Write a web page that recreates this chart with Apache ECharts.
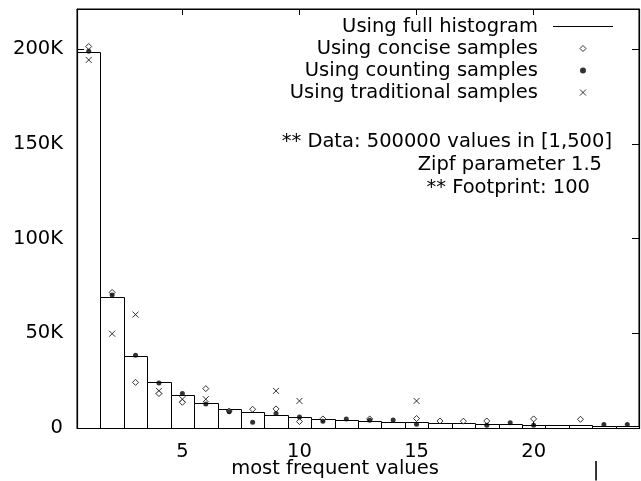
<!DOCTYPE html>
<html>
<head>
<meta charset="utf-8">
<title>most frequent values</title>
<script src="https://cdn.jsdelivr.net/npm/echarts@6/dist/echarts.min.js"></script>
<style>
  html, body { margin: 0; padding: 0; background: #fff; }
  #chart { width: 641px; height: 481px; }
</style>
</head>
<body>
<div id="chart"></div>
<script>
// full histogram, ranks 1..24
const ranks = [1, 2, 3, 4, 5, 6, 7, 8, 9, 10, 11, 12, 13, 14, 15, 16, 17, 18, 19, 20, 21, 22, 23, 24]
const fullHist = [198600, 69100, 37800, 24300, 17300, 13200, 10200, 8500, 7100, 5800, 4800, 4400,
  3700, 3400, 3000, 2600, 2600, 2300, 2100, 1800, 1800, 1600, 1300, 1100]

// concise samples
const conciseRanks = [1, 2, 3, 4, 5, 6, 7, 8, 9, 10, 11, 13, 15, 16, 17, 18, 20, 22]
const conciseVals = [201500, 71600, 24100, 18200, 13600, 20800, 9000, 9900, 10100, 3400, 4800, 4800,
  5000, 3700, 3600, 3700, 4800, 4600]

// counting samples
const countingRanks = [1, 2, 3, 4, 5, 6, 7, 8, 9, 10, 11, 12, 13, 14, 15, 18, 19, 20, 23, 24]
const countingVals = [199000, 70200, 38400, 23800, 18200, 12700, 8600, 3000, 7600, 5800, 3500, 4800,
  4100, 4200, 2000, 1400, 2800, 1400, 1800, 1800]

// traditional samples
const tradRanks = [1, 2, 3, 4, 5, 6, 9, 10, 15]
const tradVals = [194400, 49800, 59900, 19600, 15200, 15200, 19600, 14300, 14300]

const notes = ['** Data: 500000 values in [1,500]', 'Zipf parameter 1.5', '** Footprint: 100']

const FONT = 'DejaVu Sans'
const FS = 19.5
const xMin = 0.5
const xMax = 24.5
const yMax = 221300

const pairs = (xs, ys) => xs.map((x, i) => [x, ys[i]])

const chart = echarts.init(document.getElementById('chart'), null, { renderer: 'canvas' })

const kLabel = v => {
  if (v % 50000 !== 0) return ''
  return v === 0 ? '0' : (v / 1000) + 'K'
}

const baseX = {
  type: 'value',
  min: xMin,
  max: xMax,
  splitLine: { show: false },
  axisLine: { show: true, onZero: false, lineStyle: { color: '#000', width: 1 } },
  axisTick: { show: true, inside: true, length: 6, lineStyle: { color: '#000' } }
}

const baseY = {
  type: 'value',
  min: 0,
  max: yMax,
  interval: 50000,
  splitLine: { show: false },
  axisLine: { show: true, onZero: false, lineStyle: { color: '#000', width: 1 } },
  axisTick: { show: true, inside: true, length: 7, lineStyle: { color: '#000' } }
}

// annotation block + the stray bar under the plot
const textGraphics = notes.map((t, i) => ({
  type: 'text',
  x: [612, 602, 590][i],
  y: [141.7, 165, 188][i],
  style: { text: t, fill: '#000', font: FS + 'px "' + FONT + '"', align: 'right', verticalAlign: 'middle' }
})).concat([{
  type: 'text',
  x: 596,
  y: 471,
  style: { text: '|', fill: '#000', font: FS + 'px "' + FONT + '"', align: 'center', verticalAlign: 'middle' }
}])

const option = {
  animation: false,
  backgroundColor: '#fff',
  textStyle: { fontFamily: FONT, fontSize: FS, color: '#000' },
  grid: {
    left: 77, right: 2, top: 9, bottom: 53,
    containLabel: false,
    outerBoundsMode: 'none',
    show: true,
    backgroundColor: 'transparent',
    borderColor: '#000',
    borderWidth: 1
  },
  xAxis: [
    {
      ...baseX,
      position: 'bottom',
      name: 'most frequent values',
      nameLocation: 'middle',
      nameGap: 31,
      nameMoveOverlap: false,
      nameTextStyle: { fontFamily: FONT, fontSize: FS, color: '#000', padding: [0, 46, 0, 0] },
      axisLabel: {
        fontFamily: FONT,
        fontSize: FS,
        color: '#000',
        margin: 14,
        showMinLabel: false,
        showMaxLabel: false,
        formatter: v => (v % 5 === 0 ? String(v) : '')
      }
    },
    { ...baseX, position: 'top', axisLabel: { show: false } }
  ],
  yAxis: [
    {
      ...baseY,
      position: 'left',
      axisLabel: {
        fontFamily: FONT,
        fontSize: FS,
        color: '#000',
        margin: 14,
        showMaxLabel: false,
        formatter: kLabel
      }
    },
    { ...baseY, position: 'right', axisLabel: { show: false } }
  ],
  legend: {
    orient: 'vertical',
    right: 28,
    top: 16.5,
    align: 'right',
    padding: 0,
    itemWidth: 60,
    itemHeight: 6,
    itemGap: 2,
    symbolKeepAspect: true,
    selectedMode: false,
    textStyle: { fontFamily: FONT, fontSize: FS, color: '#000', lineHeight: 20, padding: [0, 10, 0, 0] },
    data: [
      {
        name: 'Using full histogram',
        icon: 'path://M0,0L60,0L60,1L0,1Z',
        itemStyle: { color: '#000', borderWidth: 0 }
      },
      {
        name: 'Using concise samples',
        icon: 'path://M5,0L10,5L5,10L0,5Z',
        itemStyle: { color: '#fff', borderColor: '#000', borderWidth: 1 }
      },
      {
        name: 'Using counting samples',
        icon: 'path://M0,5a5,5 0 1,0 10,0a5,5 0 1,0 -10,0',
        itemStyle: { color: '#000', borderWidth: 0 }
      },
      {
        name: 'Using traditional samples',
        icon: 'path://M0,0L10,10M10,0L0,10',
        itemStyle: { color: 'transparent', borderColor: '#000', borderWidth: 1 }
      }
    ]
  },
  graphic: textGraphics,
  series: [
    {
      name: 'Using full histogram',
      type: 'custom',
      itemStyle: { color: '#000' },
      encode: { x: 0, y: 1 },
      data: pairs(ranks, fullHist),
      // one box per rank, rank-0.5 .. rank+0.5
      renderItem: (params, api) => {
        const r = api.value(0)
        const v = api.value(1)
        const p0 = api.coord([r - 0.5, v])
        const p1 = api.coord([r + 0.5, 0])
        const x0 = Math.round(p0[0]) + 0.5
        const x1 = Math.round(p1[0]) + 0.5
        const y0 = Math.round(p0[1]) + 0.5
        const y1 = Math.round(p1[1]) + 0.5
        return {
          type: 'rect',
          shape: { x: x0, y: y0, width: x1 - x0, height: y1 - y0 },
          style: { fill: '#fff', stroke: '#000', lineWidth: 1 }
        }
      },
      z: 1
    },
    {
      name: 'Using concise samples',
      type: 'scatter',
      symbol: 'diamond',
      symbolSize: 6,
      itemStyle: { color: '#fff', borderColor: '#000', borderWidth: 1 },
      data: pairs(conciseRanks, conciseVals),
      z: 3
    },
    {
      name: 'Using counting samples',
      type: 'scatter',
      symbol: 'circle',
      symbolSize: 5,
      itemStyle: { color: '#000' },
      data: pairs(countingRanks, countingVals),
      z: 4
    },
    {
      name: 'Using traditional samples',
      type: 'scatter',
      symbol: 'path://M0,0L10,10M10,0L0,10',
      symbolSize: 6,
      itemStyle: { color: 'transparent', borderColor: '#000', borderWidth: 1 },
      data: pairs(tradRanks, tradVals),
      z: 2
    }
  ]
}

chart.setOption(option)

// crisp plot frame on the grid corners
const tl = chart.convertToPixel({ gridIndex: 0 }, [xMin, yMax])
const br = chart.convertToPixel({ gridIndex: 0 }, [xMax, 0])
const fx0 = Math.round(tl[0]) + 0.5
const fy0 = Math.round(tl[1]) + 0.5
const fx1 = Math.round(br[0]) + 0.5
const fy1 = Math.round(br[1]) + 0.5
chart.setOption({
  graphic: textGraphics.concat([{
    type: 'polyline',
    z: 100,
    silent: true,
    shape: { points: [[fx0, fy1], [fx0, fy0], [fx1, fy0], [fx1, fy1], [fx0, fy1]] },
    style: { stroke: '#000', lineWidth: 1.2, fill: null }
  }])
})
</script>
</body>
</html>
